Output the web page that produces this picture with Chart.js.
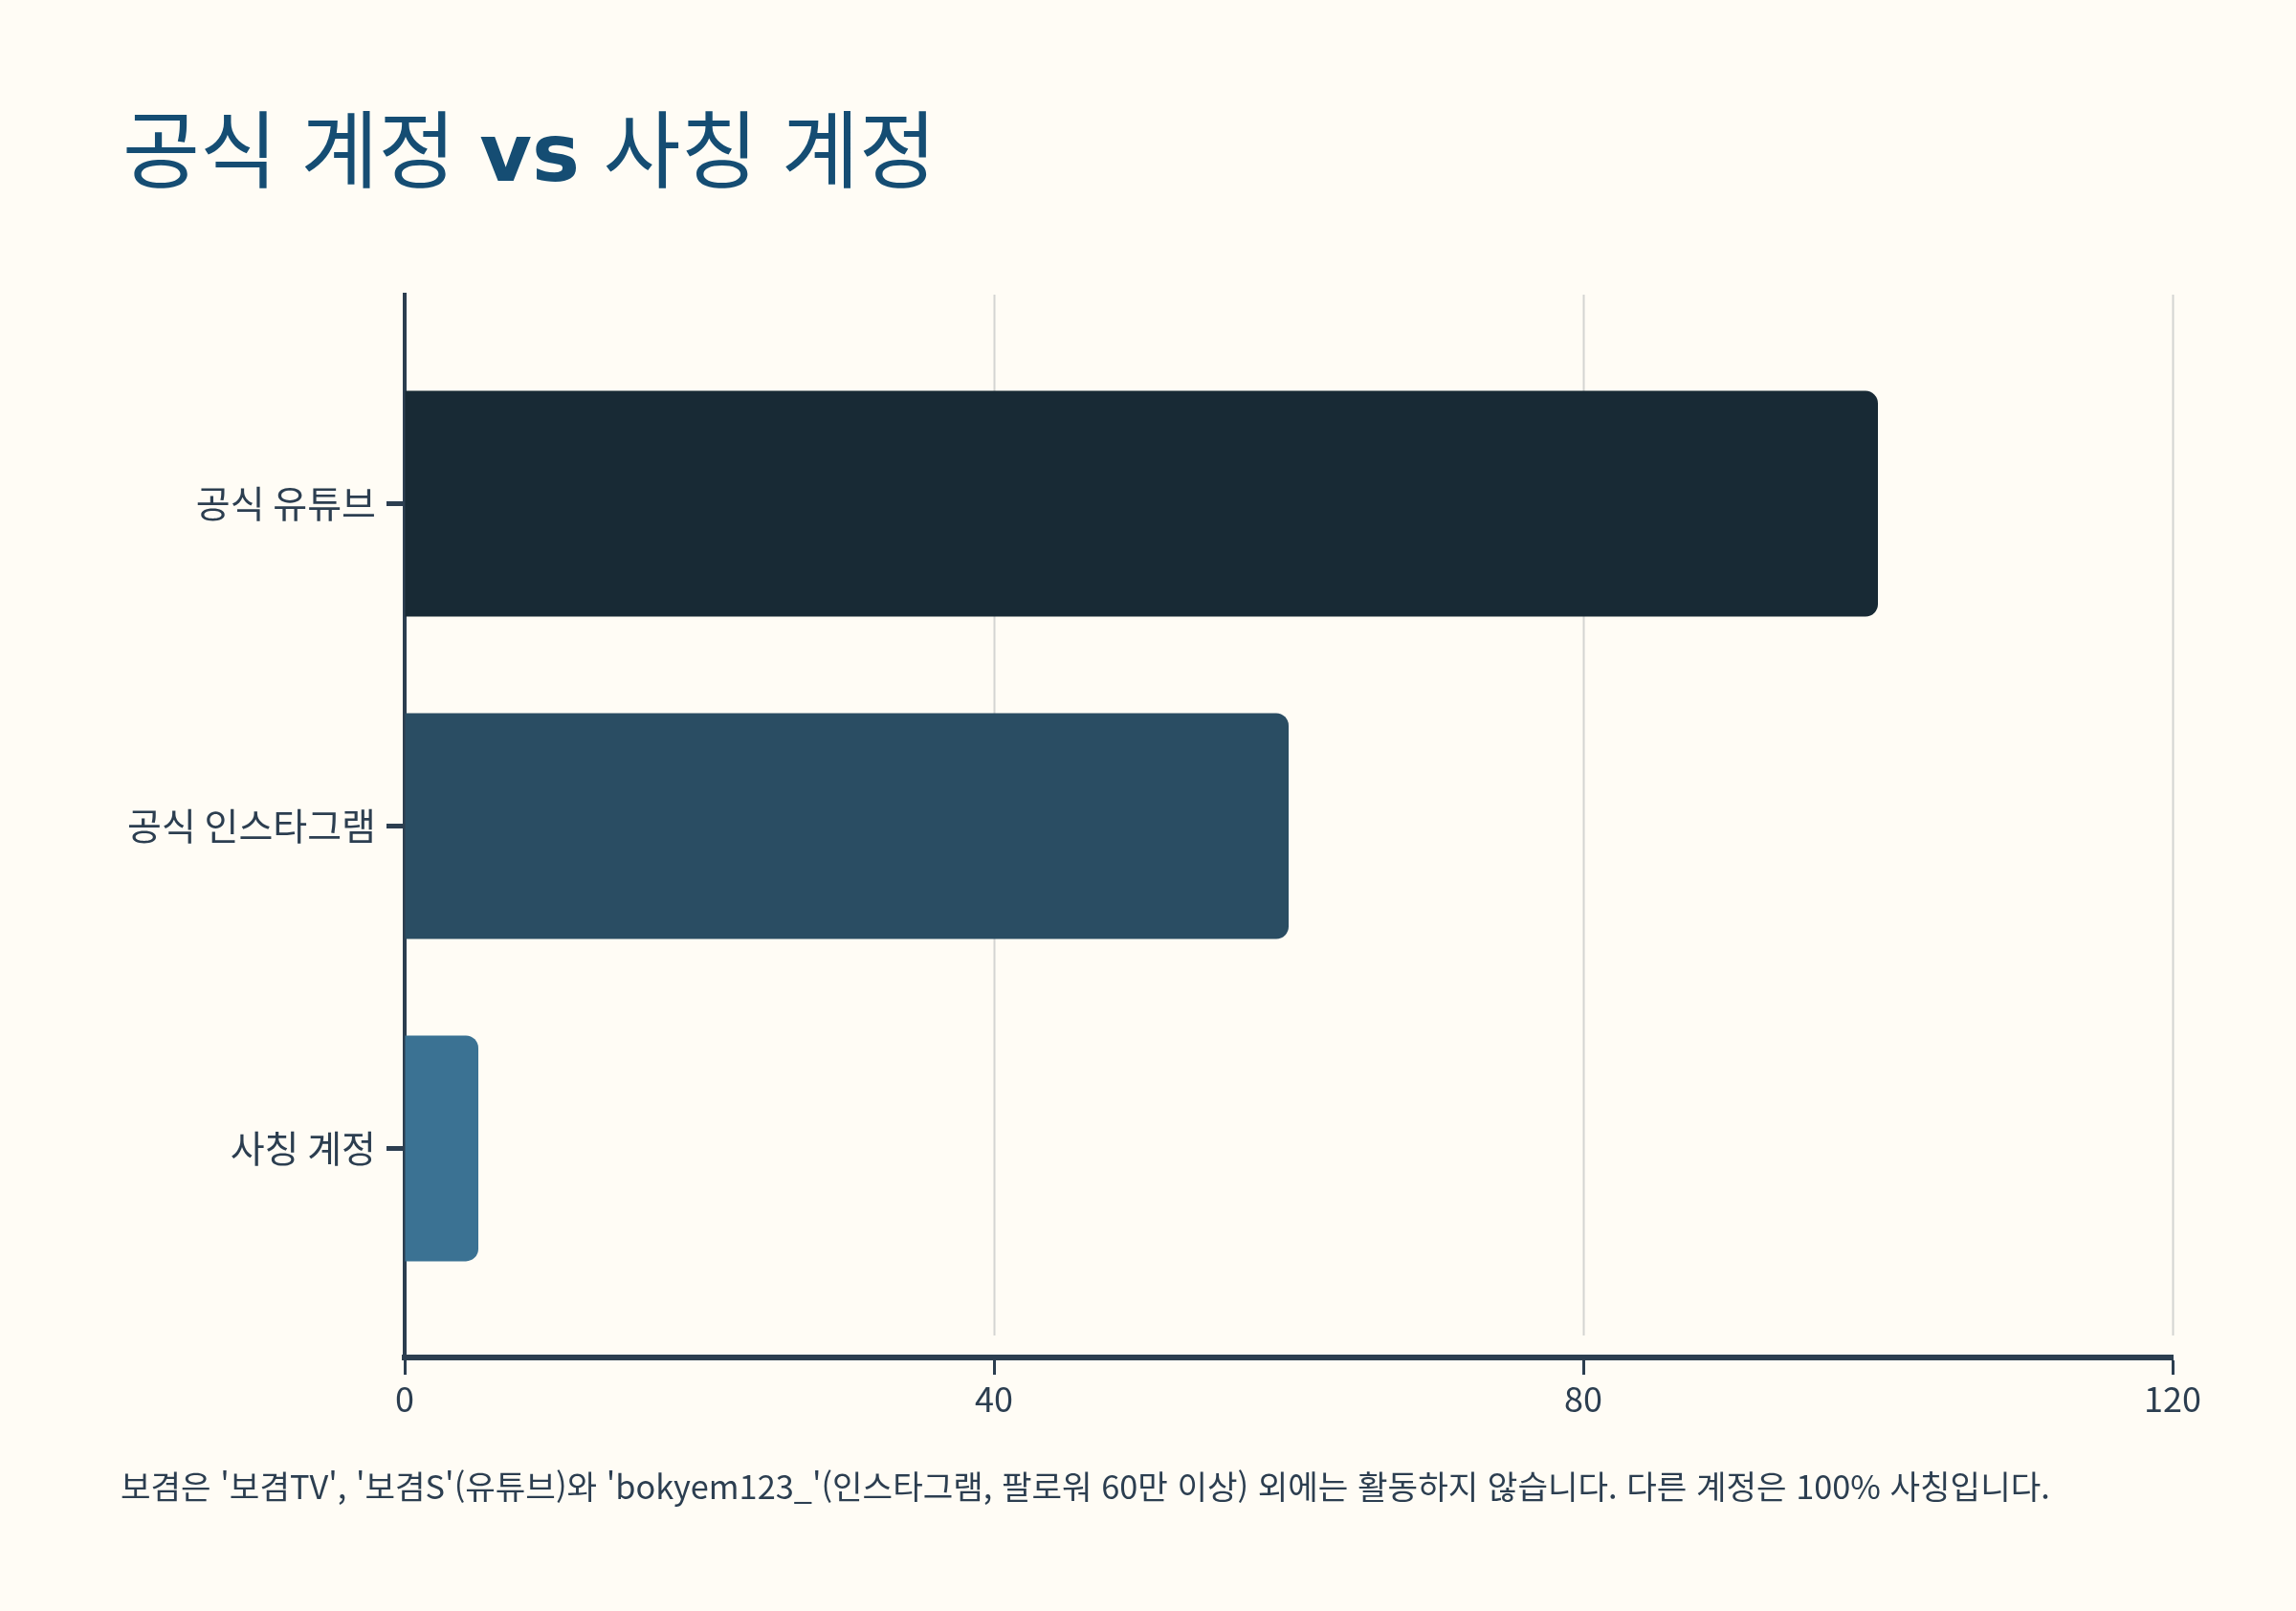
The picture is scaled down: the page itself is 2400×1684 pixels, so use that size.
<!DOCTYPE html>
<html lang="ko">
<head>
<meta charset="utf-8">
<title>공식 계정 vs 사칭 계정</title>
<script src="https://cdn.jsdelivr.net/npm/chart.js@4.4.1/dist/chart.umd.min.js"></script>
<style>
  html, body {
    margin: 0;
    padding: 0;
    background: #fffcf5;
  }
  #wrap {
    position: relative;
    width: 2400px;
    height: 1684px;
  }
  #title {
    position: absolute;
    left: 128px;
    top: 107px;
    margin: 0;
    font-family: "Noto Sans CJK KR", sans-serif;
    font-weight: 400;
    font-size: 88px;
    line-height: 1;
    color: #154d73;
    white-space: nowrap;
  }
  #title .vs {
    font-family: "DejaVu Sans", sans-serif;
    font-weight: 700;
    font-size: 84px;
  }
  #note {
    position: absolute;
    left: 126px;
    top: 1535px;
    margin: 0;
    font-family: "Noto Sans CJK KR", sans-serif;
    font-size: 34.3px;
    line-height: 1;
    color: #2c3e50;
    white-space: nowrap;
  }
  #chartBox {
    position: absolute;
    left: 0;
    top: 0;
    width: 2400px;
    height: 1684px;
  }
</style>
</head>
<body>
<div id="wrap">
  <div id="chartBox"><canvas id="accountChart"></canvas></div>
  <h1 id="title">공식 계정 <span class="vs">vs</span> 사칭 계정</h1>
  <p id="note">보겸은 '보겸TV', '보겸S'(유튜브)와 'bokyem123_'(인스타그램, 팔로워 60만 이상) 외에는 활동하지 않습니다. 다른 계정은 100% 사칭입니다.</p>
</div>

<script>
// chart data
const categories = ["공식 유튜브", "공식 인스타그램", "사칭 계정"];
const shareValues = [100, 60, 5];
const xTickValues = [0, 40, 80, 120];
const barColors = ["#182a35", "#2a4d63", "#3b7293"];

const inkColor = "#2c3e50";

// vertical grid lines that stop short of the x axis
const gridPlugin = {
  id: "shortGrid",
  beforeDatasetsDraw(chart) {
    const ctx = chart.ctx;
    const area = chart.chartArea;
    const xScale = chart.scales.x;
    ctx.save();
    ctx.strokeStyle = "#d4d4d2";
    ctx.lineWidth = 2;
    xTickValues.forEach((v) => {
      if (v === 0) return;
      const px = Math.round(xScale.getPixelForValue(v)) + 0.5;
      ctx.beginPath();
      ctx.moveTo(px, area.top);
      ctx.lineTo(px, area.bottom - 23);
      ctx.stroke();
    });
    ctx.restore();
  },
};

function renderAccountChart() {
  const ctx = document.getElementById("accountChart").getContext("2d");

  const points = shareValues.map((v, i) => ({ x: v, y: i }));

  new Chart(ctx, {
    type: "bar",
    data: {
      datasets: [
        {
          label: "계정",
          data: points,
          backgroundColor: barColors,
          borderRadius: 13,
          borderSkipped: "start",
          barPercentage: 0.7,
          categoryPercentage: 1.0,
        },
      ],
    },
    plugins: [gridPlugin],
    options: {
      indexAxis: "y",
      responsive: true,
      maintainAspectRatio: false,
      animation: false,
      layout: {
        padding: { top: 308, right: 129, bottom: 0, left: 0 },
      },
      plugins: {
        legend: { display: false },
        tooltip: { enabled: false },
        title: { display: false },
      },
      scales: {
        x: {
          type: "linear",
          min: 0,
          max: 120,
          afterBuildTicks: (scale) => {
            scale.ticks = xTickValues.map((v) => ({ value: v }));
          },
          afterFit: (scale) => {
            scale.height = 265;
          },
          grid: {
            drawOnChartArea: false,
            drawTicks: true,
            tickLength: 18,
            tickWidth: 3,
            tickColor: inkColor,
          },
          border: {
            display: true,
            color: inkColor,
            width: 6,
          },
          ticks: {
            color: inkColor,
            padding: 4,
            font: { family: '"Noto Sans CJK KR"', size: 36 },
          },
        },
        y: {
          type: "linear",
          reverse: true,
          offset: false,
          min: -0.6485,
          max: 2.6485,
          afterBuildTicks: (scale) => {
            scale.ticks = categories.map((c, i) => ({ value: i }));
          },
          afterFit: (scale) => {
            scale.width = 423;
          },
          grid: {
            offset: false,
            drawOnChartArea: false,
            drawTicks: true,
            tickLength: 19,
            tickWidth: 5,
            tickColor: inkColor,
          },
          border: {
            display: true,
            color: inkColor,
            width: 4,
          },
          ticks: {
            color: inkColor,
            padding: 11,
            font: { family: '"Noto Sans CJK KR"', size: 39 },
            callback: (value) => categories[value],
          },
        },
      },
    },
  });
}

window.onload = renderAccountChart;
</script>
</body>
</html>
